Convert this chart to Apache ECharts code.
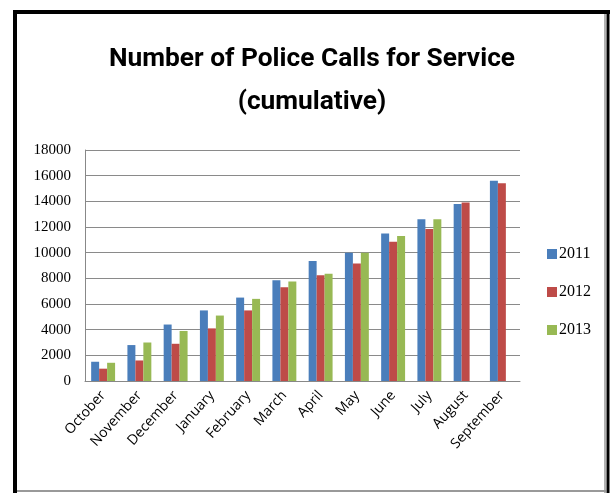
<!DOCTYPE html>
<html>
<head>
<meta charset="utf-8">
<script src="https://cdn.jsdelivr.net/npm/echarts@6/dist/echarts.min.js"></script>
<style>html,body{margin:0;padding:0;background:#fff;}#c{width:610px;height:493px;}</style>
</head>
<body>
<div id="c"></div>
<script>
var categories = ['October','November','December','January','February','March','April','May','June','July','August','September'];
var s2011 = [1500, 2800, 4400, 5500, 6500, 7850, 9350, 10000, 11500, 12600, 13800, 15600];
var s2012 = [960, 1600, 2900, 4100, 5500, 7300, 8250, 9150, 10850, 11850, 13900, 15400];
var s2013 = [1420, 3000, 3900, 5100, 6400, 7750, 8350, 10000, 11300, 12600, null, null];
var seriesNames = ['2011','2012','2013'];
var titleLines = ['Number of Police Calls for Service', '(cumulative)'];

var chart = echarts.init(document.getElementById('c'), null, {renderer:'canvas'});
var colors = ['#4a7ebb','#be4b48','#98b954'];
var data = [s2011, s2012, s2013];
var titleStyle = {fontFamily:'Roboto,"Open Sans",sans-serif', fontWeight:'bold', fontSize:26.3, color:'#000'};
chart.setOption({
  animation:false,
  backgroundColor:'#ffffff',
  title:[
    {text:titleLines[0], left:312, top:46, textAlign:'center', textStyle:titleStyle, padding:0},
    {text:titleLines[1], left:312, top:89, textAlign:'center', textStyle:titleStyle, padding:0}
  ],
  legend:{
    orient:'vertical', left:542, top:241, itemWidth:10, itemHeight:10, itemGap:22,
    icon:'rect',
    data:seriesNames,
    textStyle:{fontFamily:'"Liberation Serif",serif', fontSize:16, color:'#000', padding:[0,0,0,-3]}
  },
  grid:{left:85, right:90, top:150, bottom:112, containLabel:false},
  xAxis:{
    type:'category', data:categories,
    axisLine:{lineStyle:{color:'#888', width:1}},
    axisTick:{show:false},
    axisLabel:{rotate:48, interval:0, fontFamily:'"Open Sans","Liberation Sans",sans-serif', fontSize:14, color:'#000', margin:12}
  },
  yAxis:{
    type:'value', min:0, max:18000, interval:2000,
    axisLine:{show:true, lineStyle:{color:'#888'}},
    axisTick:{show:false},
    splitLine:{lineStyle:{color:'#8a8a8a', width:1}},
    axisLabel:{fontFamily:'"Liberation Serif",serif', fontSize:15, color:'#000', margin:14,
      formatter:function(v){return String(v);}}
  },
  series: seriesNames.map(function(n,i){
    return {name:n, type:'bar', data:data[i], barGap:'0%', barCategoryGap:'34%',
      itemStyle:{color:colors[i]}};
  }),
  graphic:[
    {type:'line', shape:{x1:15, y1:10, x2:15, y2:493}, style:{stroke:'#000', lineWidth:4}},
    {type:'line', shape:{x1:13, y1:12, x2:610, y2:12}, style:{stroke:'#000', lineWidth:4}},
    {type:'line', shape:{x1:608, y1:10, x2:608, y2:493}, style:{stroke:'#000', lineWidth:3}},
    {type:'line', shape:{x1:605, y1:14, x2:605, y2:493}, style:{stroke:'#999', lineWidth:1.5}},
    {type:'line', shape:{x1:17, y1:491, x2:606, y2:491}, style:{stroke:'#999', lineWidth:2}}
  ]
});
</script>
</body>
</html>
